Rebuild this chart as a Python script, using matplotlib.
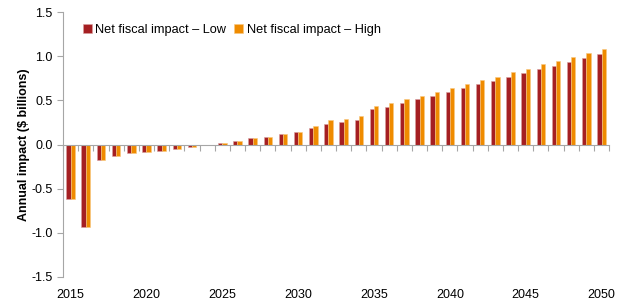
import numpy as np
import matplotlib
matplotlib.use("Agg")
import matplotlib.pyplot as plt

plt.rcParams['font.family'] = ['Liberation Sans', 'DejaVu Sans']

years = list(range(2015, 2051))
low = [-0.62, -0.94, -0.17, -0.13, -0.095, -0.09, -0.07, -0.05, -0.03, -0.005,
       0.02, 0.04, 0.07, 0.09, 0.12, 0.14, 0.19, 0.23, 0.25, 0.28,
       0.40, 0.43, 0.47, 0.51, 0.55, 0.60, 0.64, 0.68, 0.72, 0.77,
       0.81, 0.85, 0.89, 0.94, 0.98, 1.03]
high = [-0.62, -0.94, -0.17, -0.13, -0.095, -0.09, -0.07, -0.05, -0.03, -0.005,
        0.02, 0.04, 0.07, 0.09, 0.12, 0.14, 0.21, 0.28, 0.29, 0.32,
        0.44, 0.47, 0.51, 0.55, 0.60, 0.64, 0.69, 0.73, 0.77, 0.82,
        0.86, 0.91, 0.95, 0.99, 1.04, 1.08]
label_years = [2015, 2020, 2025, 2030, 2035, 2040, 2045, 2050]

red = '#A51F22'
orange = '#EF8B00'
grey = '#A6A6A6'

fig = plt.figure(figsize=(6.28, 3.02), dpi=100)
ax = fig.add_axes([0.1003, 0.083, 0.8697, 0.877])

x = np.arange(len(years))
w = 0.28
ax.bar(x - w/2, low, w, color=red, edgecolor='#D9A0A0', linewidth=0.4,
       label='Net fiscal impact \u2013 Low')
ax.bar(x + w/2, high, w, color=orange, edgecolor='#F8C880', linewidth=0.4,
       label='Net fiscal impact \u2013 High')

ax.set_xlim(-0.5, len(years) - 0.5)
ax.set_ylim(-1.5, 1.5)
ax.set_yticks(np.arange(-1.5, 1.51, 0.5))
ax.set_yticklabels(['%.1f' % v for v in np.arange(-1.5, 1.51, 0.5)], fontsize=9)

# x axis line sits at zero with ticks at category boundaries
ax.spines['bottom'].set_position(('data', 0))
ax.spines['bottom'].set_color(grey)
ax.spines['left'].set_color(grey)
ax.spines['top'].set_visible(False)
ax.spines['right'].set_visible(False)
ax.set_xticks(np.arange(-0.5, len(years), 1.0))
ax.set_xticklabels([])
ax.tick_params(axis='x', direction='out', length=4, color=grey, width=0.8)
ax.tick_params(axis='y', direction='out', length=4, color=grey, width=0.8)

sec = ax.secondary_xaxis(0.0)
sec.set_xticks([years.index(y) for y in label_years])
sec.set_xticklabels([str(y) for y in label_years], fontsize=9)
sec.tick_params(length=0, pad=9)
sec.spines['bottom'].set_visible(False)

ax.set_ylabel('Annual impact ($ billions)', fontsize=9, fontweight='bold', labelpad=1)

ax.legend(loc='upper left', bbox_to_anchor=(0.022, 0.985), ncol=2, frameon=False,
          fontsize=9.2, handlelength=0.7, handleheight=0.7, handletextpad=0.3,
          columnspacing=0.6, borderaxespad=0.2)

fig.savefig('out.png', dpi=100)
